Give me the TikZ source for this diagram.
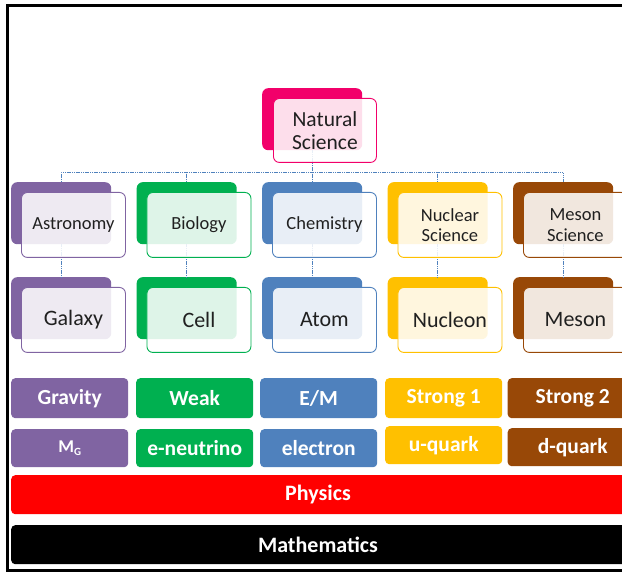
\documentclass[tikz,border=0pt]{standalone}
\usepackage{fontspec}
\setmainfont{Carlito}
\definecolor{cpurple}{HTML}{8064A2}
\definecolor{cgreen}{HTML}{00B050}
\definecolor{cblue}{HTML}{4F81BD}
\definecolor{cgold}{HTML}{FFC000}
\definecolor{cbrown}{HTML}{984807}
\definecolor{cmagenta}{HTML}{F2006A}
\definecolor{cred}{HTML}{FF0000}
\definecolor{ctext}{HTML}{202020}
\begin{document}
\begin{tikzpicture}[x=1pt,y=-1pt,
  back/.style={rounded corners=6pt, fill=#1, draw=none, minimum width=100pt,
    minimum height=62pt, anchor=north west, inner sep=0pt},
  front/.style={rounded corners=6pt, fill=white, fill opacity=0.87, text opacity=1,
    draw=#1, line width=0.9pt, minimum width=104pt, minimum height=65pt,
    anchor=north west, inner sep=0pt, align=center, text=ctext,
    font=\fontsize{18.5}{20.5}\selectfont},
  frontbig/.style={front=#1, font=\fontsize{22}{24}\selectfont},
  conn/.style={draw=cblue, line width=1pt, dash pattern=on 1.2pt off 0.6pt},
  force/.style={rounded corners=4pt, fill=#1, draw=none, minimum width=117pt,
    minimum height=40pt, anchor=north west, inner sep=0pt, text=white,
    font=\fontsize{21.5}{24}\selectfont\bfseries},
  particle/.style={force=#1, minimum height=38pt},
  bar/.style={rounded corners=4pt, fill=#1, draw=none, minimum width=640pt,
    minimum height=39pt, anchor=north west, inner sep=0pt},
  bartext/.style={text=white, font=\fontsize{22}{24}\selectfont\bfseries}
]
\useasboundingbox (0,0) rectangle (622,572);
\clip (0,0) rectangle (622,572);

% frame
\draw[line width=3pt] (640,5.5) -- (7.5,5.5) -- (7.5,570) -- (640,570);

% back boxes
\node[back=cmagenta] (nsB) at (262,88) {};
\node[back=cpurple] (astB) at (11,182) {};
\node[back=cgreen] (bioB) at (136.5,182) {};
\node[back=cblue] (cheB) at (262,182) {};
\node[back=cgold] (nucB) at (387.5,182) {};
\node[back=cbrown] (mesB) at (513,182) {};
\node[back=cpurple] (galB) at (11,277) {};
\node[back=cgreen] (celB) at (136.5,277) {};
\node[back=cblue] (atoB) at (262,277) {};
\node[back=cgold] (nclB) at (387.5,277) {};
\node[back=cbrown] (mznB) at (513,277) {};

% connectors
\coordinate (bus) at (312,173);
\draw[conn] (nsB.south) -- (nsB.south |- bus);
\draw[conn] (astB.north) |- (bus -| mesB.north) -- (mesB.north);
\draw[conn] (bioB.north) -- (bioB.north |- bus);
\draw[conn] (cheB.north) -- (cheB.north |- bus);
\draw[conn] (nucB.north) -- (nucB.north |- bus);
\draw[conn] (astB.south) -- (galB.north);
\draw[conn] (bioB.south) -- (celB.north);
\draw[conn] (cheB.south) -- (atoB.north);
\draw[conn] (nucB.south) -- (nclB.north);
\draw[conn] (mesB.south) -- (mznB.north);

% front boxes
\node[front=cmagenta, font=\fontsize{21.5}{23}\selectfont, minimum width=103pt, minimum height=64pt] (ns) at (273,98) {Natural\\Science};
\node[front=cpurple] (ast) at (21,192) {Astronomy};
\node[front=cgreen] (bio) at (146.5,192) {Biology};
\node[front=cblue] (che) at (272,192) {Chemistry};
\node[front=cgold] (nuc) at (397.5,192) {Nuclear\\Science};
\node[front=cbrown] (mes) at (523,192) {Meson\\Science};
\node[frontbig=cpurple] (gal) at (21,287) {Galaxy};
\node[frontbig=cgreen] (cel) at (146.5,287) {Cell};
\node[frontbig=cblue] (ato) at (272,287) {Atom};
\node[frontbig=cgold] (ncl) at (397.5,287) {Nucleon};
\node[frontbig=cbrown] (mzn) at (523,287) {Meson};

% forces
\node[force=cpurple] (grav) at (11,378) {Gravity};
\node[force=cgreen] (weak) at (136,378) {Weak};
\node[force=cblue] (em) at (260,378) {E/M};
\node[force=cgold] (str1) at (385,378) {Strong 1};
\node[force=cbrown, minimum width=130pt] (str2) at (507.5,378) {\hbox to 115pt{\hss Strong 2\hss}\hspace{15pt}};

% particles
\node[particle=cpurple, font=\fontsize{18}{20}\selectfont\bfseries] (mg) at (11,429) {M\raisebox{-0.22em}{\fontsize{11}{11}\selectfont G}};
\node[particle=cgreen] (neu) at (136,429) {e-neutrino};
\node[particle=cblue] (ele) at (260,429) {electron};
\node[particle=cgold] (uq) at (385,426) {u-quark};
\node[particle=cbrown, minimum width=130pt] (dq) at (507.5,428) {\hbox to 115pt{\hss d-quark\hss}\hspace{15pt}};

% bars
\node[bar=cred] (phys) at (11,475) {};
\node[bartext] (physT) at (318,495) {Physics};
\node[bar=black] (math) at (11,525) {};
\node[bartext] (mathT) at (318,545) {Mathematics};
\end{tikzpicture}
\end{document}
